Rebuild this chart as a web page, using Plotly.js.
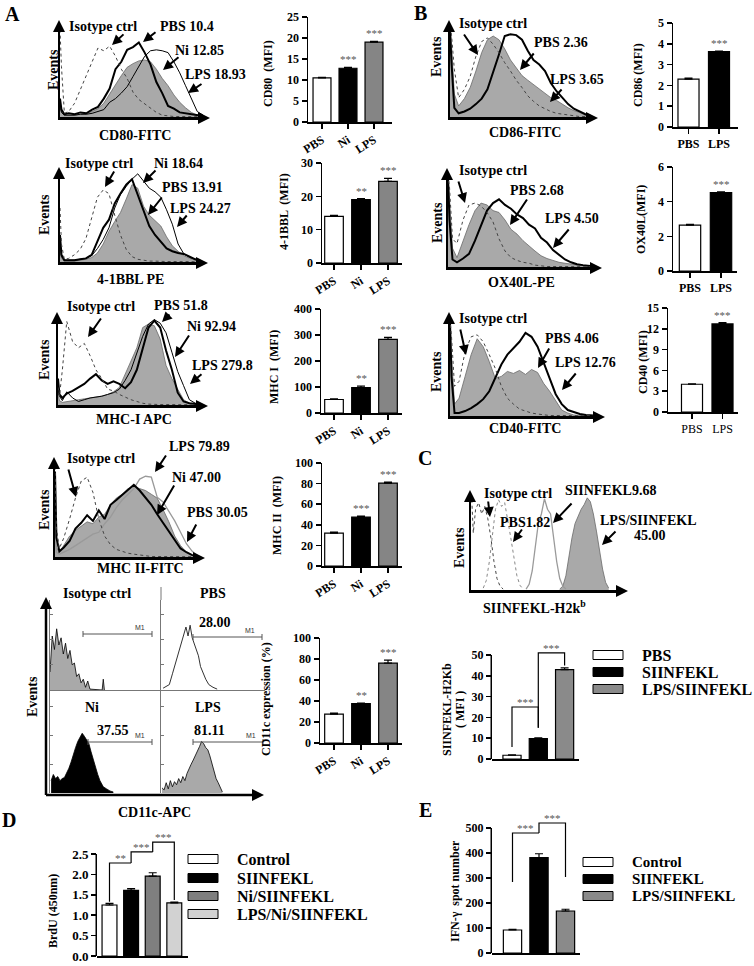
<!DOCTYPE html>
<html>
<head>
<meta charset="utf-8">
<script src="https://cdn.plot.ly/plotly-3.0.1.min.js"></script>
<style>
html,body{margin:0;padding:0;background:#fff;}
#fig{width:754px;height:966px;}
</style>
</head>
<body>
<div id="fig"></div>
<script>
// ================= DATA =================
// ---- Panel A bar charts ----
const groupsA = ['PBS', 'Ni', 'LPS'];
const cd80Mfi = [10.5, 12.8, 19.0];
const cd80Sem = [0.15, 0.2, 0.2];
const cd80Sig = ['', '***', '***'];
const bblMfi = [14.0, 19.0, 24.5];
const bblSem = [0.3, 0.3, 0.9];
const bblSig = ['', '**', '***'];
const mhc1Mfi = [52, 98, 283];
const mhc1Sem = [2, 5, 8];
const mhc1Sig = ['', '**', '***'];
const mhc2Mfi = [32, 47.5, 80.5];
const mhc2Sem = [1, 1, 1];
const mhc2Sig = ['', '***', '***'];
const cd11cPct = [27.5, 37.5, 76];
const cd11cSem = [1, 0.5, 3];
const cd11cSig = ['', '**', '***'];
// ---- Panel B bar charts ----
const groupsB = ['PBS', 'LPS'];
const cd86Mfi = [2.3, 3.62];
const cd86Sem = [0.05, 0.03];
const ox40Mfi = [2.65, 4.52];
const ox40Sem = [0.04, 0.05];
const cd40Mfi = [4.0, 12.7];
const cd40Sem = [0.05, 0.2];
const sigB = ['', '***'];
// ---- Panel C ----
const groupsC = ['PBS', 'SIINFEKL', 'LPS/SIINFEKL'];
const h2kbMfi = [1.8, 9.8, 43];
const h2kbSem = [0.2, 0.4, 0.8];
const h2kbSigX = [[0, 0, 1, 1], [1, 1, 2, 2]];
const h2kbSigY = [[5.8, 25, 25, 15], [15, 51, 51, 45]];
const h2kbSigText = ['***', '***'];
// ---- Panel D ----
const groupsD = ['Control', 'SIINFEKL', 'Ni/SIINFEKL', 'LPS/Ni/SIINFEKL'];
const brduOD = [1.25, 1.61, 1.96, 1.30];
const brduSem = [0.04, 0.04, 0.08, 0.02];
const brduSigX = [[0, 0, 1], [1, 1, 2], [2, 2, 3, 3]];
const brduSigY = [[1.33, 2.28, 2.28], [2.28, 2.55, 2.55], [2.55, 2.79, 2.79, 1.37]];
const brduSigText = ['**', '***', '***'];
// ---- Panel E ----
const groupsE = ['Control', 'SIINFEKL', 'LPS/SIINFEKL'];
const ifnSpots = [92, 382, 168];
const ifnSem = [3, 15, 7];
const ifnSigX = [[0, 0, 1], [1, 1, 2, 2]];
const ifnSigY = [[284, 480, 480], [480, 520, 520, 304]];
const ifnSigText = ['***', '***'];

// ---- flow histograms (fluorescence channel 0-100, % of max events) ----
const histGrid = [0, 1, 3, 6, 10, 14, 18, 22, 26, 30, 34, 38, 42, 46, 50, 54, 58, 62, 66, 70, 74, 78, 82, 86, 90, 94, 98];
const cd80Iso = [95, 55, 4, 6, 15, 30, 45, 62, 75, 72, 77, 66, 52, 42, 27, 19, 14, 10, 5, 2, 1, 0.5, 0.5, 0.5, 0.5, 0.3, 0.3];
const cd80Pbs = [20, 8, 3, 4, 3, 5, 4, 8, 11, 20, 31, 52, 60, 73, 76, 81, 70, 57, 38, 26, 12, 9, 5, 4, 3, 2, 1];
const cd80Ni = [10, 5, 2, 2, 2, 3, 4, 6, 9, 15, 25, 36, 45, 54, 58, 61, 62, 60, 52, 42, 34, 24, 16, 10, 5, 2, 1];
const cd80Lps = [15, 5, 2, 2, 2, 3, 3, 4, 6, 8, 16, 20, 26, 33, 44, 55, 66, 72, 73, 72, 70, 60, 48, 34, 20, 6, 2];

const bblIso = [60, 20, 3, 4, 8, 14, 26, 48, 72, 80, 76, 52, 30, 14, 6, 3, 2, 1, 1, 0.5, 0.5, 0.5, 0.5, 0.3, 0.3, 0.3, 0.3];
const bblPbs = [30, 8, 2, 2, 2, 3, 4, 8, 22, 38, 47, 65, 76, 86, 92, 75, 58, 40, 30, 22, 15, 12, 10, 9, 6, 3, 1];
const bblNi = [25, 6, 2, 2, 2, 3, 4, 7, 15, 25, 38, 60, 75, 84, 92, 98, 90, 82, 78, 72, 58, 42, 20, 9, 5, 3, 1];
const bblLps = [15, 4, 1, 1, 1, 2, 3, 5, 10, 20, 34, 45, 55, 70, 86, 82, 62, 52, 46, 40, 28, 18, 12, 7, 4, 2, 1];

const mhc1Iso = [20, 10, 40, 95, 72, 65, 70, 56, 40, 30, 18, 16, 12, 9, 6, 4, 2, 1, 0.5, 0.5, 0.5, 0.5, 0.3, 0.3, 0.3, 0.3, 0.3];
const mhc1Pbs = [30, 12, 8, 13, 16, 20, 24, 30, 35, 28, 24, 27, 24, 19, 26, 40, 65, 88, 96, 88, 62, 40, 14, 4, 2, 1, 0.5];
const mhc1Lps = [25, 10, 5, 15, 8, 4, 6, 8, 9, 10, 12, 14, 18, 28, 40, 60, 78, 92, 97, 93, 82, 60, 38, 22, 6, 2, 0.5];
const mhc1Ni = [15, 5, 3, 4, 5, 6, 7, 8, 9, 10, 12, 15, 20, 35, 48, 65, 88, 92, 90, 75, 45, 30, 18, 6, 2, 1, 0.5];

const mhc2Iso = [95, 30, 9, 20, 40, 62, 80, 84, 68, 40, 22, 13, 8, 6, 4, 3, 2, 1, 0.5, 0.5, 0.5, 0.5, 0.3, 0.3, 0.3, 0.3, 0.3];
const mhc2Ni = [90, 20, 6, 10, 17, 30, 36, 44, 38, 49, 40, 55, 60, 65, 71, 76, 70, 63, 55, 45, 36, 27, 18, 9, 5, 2, 0.5];
const mhc2Pbs = [30, 10, 5, 12, 22, 28, 33, 37, 35, 42, 45, 55, 62, 66, 72, 74, 72, 70, 66, 62, 50, 37, 22, 12, 5, 2, 0.5];
const mhc2Lps = [20, 5, 3, 5, 8, 12, 16, 20, 24, 26, 35, 42, 52, 60, 66, 72, 82, 85, 84, 63, 58, 48, 38, 26, 14, 6, 1];

const cd86Iso = [98, 90, 52, 21, 30, 44, 66, 82, 86, 79, 70, 59, 50, 40, 32, 23, 17, 12, 9, 6, 4, 3, 2, 1, 0.5, 0.5, 0.3];
const cd86Pbs = [98, 80, 25, 12, 20, 32, 50, 70, 84, 88, 84, 74, 62, 53, 45, 40, 35, 30, 25, 21, 18, 14, 10, 7, 5, 2, 1];
const cd86Lps = [95, 60, 10, 4, 6, 9, 14, 20, 30, 48, 68, 88, 90, 89, 84, 72, 62, 57, 50, 37, 28, 21, 14, 9, 6, 3, 1];

const ox40Iso = [98, 85, 30, 25, 50, 66, 68, 65, 58, 48, 30, 17, 10, 7, 5, 4, 2, 1, 0.5, 0.5, 0.5, 0.5, 0.3, 0.3, 0.3, 0.3, 0.3];
const ox40Pbs = [98, 70, 20, 10, 28, 45, 60, 68, 66, 60, 58, 50, 40, 35, 28, 22, 17, 12, 9, 7, 5, 4, 3, 2, 1, 0.5, 0.3];
const ox40Lps = [95, 50, 8, 5, 9, 14, 28, 44, 60, 68, 72, 66, 62, 56, 52, 45, 41, 31, 26, 18, 13, 8, 5, 3, 2, 1, 0.5];

const cd40Iso = [98, 80, 30, 35, 65, 80, 82, 75, 62, 48, 30, 18, 12, 7, 5, 3, 2, 1, 0.5, 0.5, 0.5, 0.5, 0.3, 0.3, 0.3, 0.3, 0.3];
const cd40Pbs = [98, 60, 12, 18, 40, 62, 78, 70, 55, 38, 40, 45, 43, 46, 42, 47, 44, 33, 25, 15, 6, 3, 1, 0.5, 0.5, 0.3, 0.3];
const cd40Lps = [95, 40, 3, 3, 5, 8, 12, 17, 25, 38, 52, 62, 68, 75, 84, 80, 70, 55, 38, 22, 12, 6, 4, 2, 1, 0.5, 0.3];

// SIINFEKL-H2kb histograms (own channel positions)
const kbIsoX = [0.5, 1.5, 3, 5, 7, 9, 11, 13, 15, 17, 19, 21];
const kbIsoY = [95, 60, 85, 92, 80, 88, 75, 55, 30, 12, 4, 1];
const kbPbsX = [8, 10, 12, 14, 16, 18, 20, 22, 24, 26, 28, 30, 32, 34];
const kbPbsY = [2, 10, 30, 60, 85, 95, 88, 92, 75, 55, 35, 15, 5, 1];
const kbSiiX = [36, 38, 40, 42, 44, 46, 48, 50, 52, 54, 56, 58, 60, 62];
const kbSiiY = [1, 6, 20, 45, 70, 80, 96, 85, 80, 55, 30, 12, 4, 1];
const kbLpsX = [58, 60, 62, 64, 66, 68, 70, 72, 74, 76, 78, 80, 82, 84, 86, 88, 90];
const kbLpsY = [1, 4, 15, 35, 55, 70, 78, 85, 90, 97, 93, 80, 62, 42, 22, 8, 2];

// CD11c-APC histograms (four small panels)
const c11IsoX = [0, 2, 4, 6, 8, 10, 12, 14, 16, 18, 20, 22, 24, 26, 28, 30, 32, 34, 36, 47, 48, 49];
const c11IsoY = [20, 60, 45, 68, 50, 58, 40, 52, 35, 44, 28, 30, 15, 18, 8, 12, 3, 10, 1, 0, 12, 0];
const c11PbsX = [2, 5, 8, 11, 14, 17, 20, 22, 24, 26, 28, 30, 32, 34, 36, 38, 40, 43, 46, 50, 54];
const c11PbsY = [2, 4, 6, 18, 30, 42, 55, 62, 70, 60, 72, 58, 52, 44, 38, 26, 20, 12, 6, 3, 1];
const c11NiX = [1, 3, 5, 7, 9, 11, 13, 15, 17, 19, 21, 23, 25, 27, 29, 31, 33, 35, 37, 39, 41, 43, 45, 48, 51, 54, 57];
const c11NiY = [12, 18, 14, 16, 12, 14, 15, 19, 24, 30, 38, 44, 50, 54, 58, 55, 52, 48, 40, 32, 24, 18, 12, 6, 4, 2, 1];
const c11LpsX = [1, 3, 5, 7, 9, 11, 13, 15, 17, 19, 21, 23, 25, 27, 29, 31, 33, 35, 37, 39, 41, 43, 45, 47, 49, 51, 53, 55, 57, 59];
const c11LpsY = [5, 3, 10, 4, 12, 6, 11, 8, 14, 10, 16, 12, 19, 24, 28, 32, 36, 40, 45, 50, 48, 44, 42, 36, 28, 20, 14, 10, 5, 1];

// ================= BUILD =================
const W = 754, H = 966;
const X = p => p / W, Y = p => 1 - p / H;
const SERIF = '"Liberation Serif", "Times New Roman", Times, serif';
const traces = [];
const layout = {width: W, height: H, margin: {l: 0, r: 0, t: 0, b: 0, pad: 0},
  paper_bgcolor: '#fff', plot_bgcolor: 'rgba(0,0,0,0)', showlegend: false,
  annotations: [], shapes: [], font: {family: SERIF, color: '#000', size: 12}};
const B = t => '<b>' + t + '</b>';
let nAx = 0;
function newAxes(xpx, ypx, xo, yo) {
  nAx++;
  const s = nAx === 1 ? '' : String(nAx);
  layout['xaxis' + s] = Object.assign({domain: [X(xpx[0]), X(xpx[1])], anchor: 'y' + s, showgrid: false, zeroline: false, fixedrange: true}, xo);
  layout['yaxis' + s] = Object.assign({domain: [Y(ypx[1]), Y(ypx[0])], anchor: 'x' + s, showgrid: false, zeroline: false, fixedrange: true}, yo);
  return {x: 'x' + s, y: 'y' + s};
}
function text(t, px, py, o) {
  o = o || {};
  const f = Object.assign({family: SERIF, size: 14, color: '#000'}, o.font || {});
  const a = Object.assign({xref: 'paper', yref: 'paper', x: X(px), y: Y(py), text: t, showarrow: false, xanchor: 'left', yanchor: 'middle'}, o);
  a.font = f;
  layout.annotations.push(a);
}
function arrow(tx, ty, hx, hy, w, s) {
  layout.annotations.push({xref: 'paper', yref: 'paper', x: X(hx), y: Y(hy), ax: tx - hx, ay: ty - hy,
    text: '', showarrow: true, arrowhead: 2, arrowsize: s || 1, arrowwidth: w || 2, arrowcolor: '#000', standoff: 0, startstandoff: 0});
}
function seg(x0, y0, x1, y1, c, w) {
  layout.shapes.push({type: 'line', xref: 'paper', yref: 'paper', x0: X(x0), y0: Y(y0), x1: X(x1), y1: Y(y1), line: {color: c || '#000', width: w || 1}});
}
function rectPx(x0, y0, x1, y1, fill) {
  layout.shapes.push({type: 'rect', xref: 'paper', yref: 'paper', x0: X(x0), y0: Y(y1), x1: X(x1), y1: Y(y0), fillcolor: fill, line: {color: '#000', width: 1}});
}

const STY = {
  iso: {line: {color: '#444', width: 1, dash: 'dot'}},
  isoLight: {line: {color: '#888', width: 1, dash: 'dot'}},
  fill: {fill: 'tozeroy', fillcolor: '#a9a9a9', line: {color: '#6a6a6a', width: 0.8}},
  thick: {line: {color: '#000', width: 2}},
  thin: {line: {color: '#000', width: 1}},
  grayLine: {line: {color: '#9a9a9a', width: 1.3}},
  fillBlackEdge: {fill: 'tozeroy', fillcolor: '#a9a9a9', line: {color: '#000', width: 0.8}},
  fillBlack: {fill: 'tozeroy', fillcolor: '#000', line: {color: '#000', width: 0.8}},
  outline: {line: {color: '#333', width: 1}}
};

function histPanel(b, series) {
  const ax = newAxes([b.x0, b.x1 - 4], [b.top + 5, b.base],
    {range: [0, 100], showline: true, linecolor: '#000', linewidth: 2.5, showticklabels: false, ticks: ''},
    {range: [0, 100], showline: true, linecolor: '#000', linewidth: 2.5, showticklabels: false, ticks: ''});
  series.forEach(s => {
    const st = JSON.parse(JSON.stringify(STY[s.style]));
    traces.push(Object.assign({type: 'scatter', mode: 'lines', x: s.x || histGrid, y: s.y, xaxis: ax.x, yaxis: ax.y, hoverinfo: 'skip'}, st));
  });
  arrow(b.x0 - 1, b.top + 14, b.x0 - 1, b.top, 2, 1.2);
  arrow(b.x1 - 14, b.base + 1, b.x1, b.base + 1, 2, 1.2);
  return ax;
}

function barPanel(b) {
  const xr = [(b.x0 - b.c0) / b.s, (b.x1 - b.c0) / b.s];
  const rMax = b.rangeMax || b.ymax;
  const topPx = b.zero - (b.zero - b.top) * rMax / b.ymax;
  const tv = [];
  for (let v = 0; v <= b.ymax + 1e-9; v += b.dtick) tv.push(+v.toFixed(3));
  const idx = b.cats.map((c, i) => i);
  const catBold = b.catWeight !== 'normal';
  const ax = newAxes([b.x0, b.x1], [topPx, b.zero], {
    range: xr, showline: true, linecolor: '#000', linewidth: 1.5,
    tickvals: idx, ticktext: b.cats.map(c => catBold ? B(c) : c), showticklabels: !!b.showCats,
    ticks: b.xticks ? 'outside' : '', ticklen: 5, tickwidth: 1.5, tickcolor: '#000',
    tickangle: b.tickangle || 0, tickfont: {family: SERIF, size: 12}
  }, {
    range: [0, rMax], showline: !b.rangeMax, linecolor: '#000', linewidth: 1.5,
    tickvals: tv, ticktext: tv.map(t => B(b.fmt ? t.toFixed(b.fmt) : String(t))),
    ticks: 'outside', ticklen: 5, tickwidth: 1.5, tickcolor: '#000',
    tickfont: {family: SERIF, size: b.tickSize || 12}
  });
  if (b.rangeMax) seg(b.x0 - 0.75, b.zero, b.x0 - 0.75, b.top, '#000', 1.5);
  traces.push({type: 'bar', x: idx, y: b.vals, width: 0.69, xaxis: ax.x, yaxis: ax.y, hoverinfo: 'skip',
    marker: {color: b.colors, line: {color: '#000', width: 1.2}},
    error_y: {type: 'data', symmetric: false, array: b.errs, arrayminus: b.errs.map(() => 0), color: '#000', thickness: 1.2, width: 4}});
  if (b.stars) b.stars.forEach((s, i) => {
    if (s) layout.annotations.push({xref: ax.x, yref: ax.y, x: i, y: b.vals[i] + b.errs[i], text: s, showarrow: false,
      yanchor: 'bottom', font: {family: SERIF, size: 11, color: '#555'}});
  });
  if (b.sigX) b.sigX.forEach((xs, k) => {
    traces.push({type: 'scatter', mode: 'lines', x: xs, y: b.sigY[k], xaxis: ax.x, yaxis: ax.y, hoverinfo: 'skip', cliponaxis: false,
      line: {color: '#000', width: 1.2}});
    layout.annotations.push({xref: ax.x, yref: ax.y, x: (xs[1] + xs[2]) / 2, y: b.sigY[k][1], text: b.sigText[k], showarrow: false,
      yanchor: 'bottom', yshift: -3, font: {family: SERIF, size: 11, color: '#555'}});
  });
  return ax;
}

const GRAY = '#858585';
// ---------- Panel A histograms ----------
histPanel({x0: 60, x1: 210, top: 20, base: 117}, [
  {y: cd80Ni, style: 'fill'}, {y: cd80Lps, style: 'thin'}, {y: cd80Pbs, style: 'thick'}, {y: cd80Iso, style: 'iso'}]);
histPanel({x0: 60, x1: 208, top: 167, base: 262}, [
  {y: bblLps, style: 'fill'}, {y: bblNi, style: 'thin'}, {y: bblPbs, style: 'thick'}, {y: bblIso, style: 'iso'}]);
histPanel({x0: 58, x1: 208, top: 312, base: 405}, [
  {y: mhc1Ni, style: 'fill'}, {y: mhc1Lps, style: 'thin'}, {y: mhc1Pbs, style: 'thick'}, {y: mhc1Iso, style: 'iso'}]);
histPanel({x0: 55, x1: 205, top: 457, base: 557}, [
  {y: mhc2Pbs, style: 'fill'}, {y: mhc2Lps, style: 'grayLine'}, {y: mhc2Ni, style: 'thick'}, {y: mhc2Iso, style: 'iso'}]);
// ---------- Panel B histograms ----------
histPanel({x0: 450, x1: 598, top: 20, base: 117}, [
  {y: cd86Pbs, style: 'fill'}, {y: cd86Lps, style: 'thick'}, {y: cd86Iso, style: 'iso'}]);
histPanel({x0: 448, x1: 602, top: 168, base: 267}, [
  {y: ox40Pbs, style: 'fill'}, {y: ox40Lps, style: 'thick'}, {y: ox40Iso, style: 'iso'}]);
histPanel({x0: 450, x1: 605, top: 312, base: 416}, [
  {y: cd40Pbs, style: 'fill'}, {y: cd40Lps, style: 'thick'}, {y: cd40Iso, style: 'iso'}]);
// ---------- Panel C histogram ----------
histPanel({x0: 471, x1: 628, top: 490, base: 590}, [
  {x: kbLpsX, y: kbLpsY, style: 'fill'}, {x: kbSiiX, y: kbSiiY, style: 'grayLine'},
  {x: kbPbsX, y: kbPbsY, style: 'isoLight'}, {x: kbIsoX, y: kbIsoY, style: 'iso'}]);

// ---------- CD11c panels ----------
const c11Panels = [
  {xp: [50, 161], yp: [600, 690], x: c11IsoX, y: c11IsoY, st: 'fillBlackEdge', bottom: true},
  {xp: [161, 265], yp: [600, 690], x: c11PbsX, y: c11PbsY, st: 'outline', bottom: true},
  {xp: [50, 161], yp: [690, 793], x: c11NiX, y: c11NiY, st: 'fillBlack', bottom: false},
  {xp: [161, 265], yp: [690, 793], x: c11LpsX, y: c11LpsY, st: 'fillBlackEdge', bottom: false}
];
c11Panels.forEach(p => {
  const ax = newAxes(p.xp, p.yp,
    {range: [0, 100], showline: p.bottom, linecolor: '#777', linewidth: 1, showticklabels: false, ticks: ''},
    {range: [0, 100], showline: true, linecolor: '#777', linewidth: 1, showticklabels: false, ticks: 'inside', ticklen: 3, tickcolor: '#777', tickvals: [28, 56, 84]});
  traces.push(Object.assign({type: 'scatter', mode: 'lines', x: p.x, y: p.y, xaxis: ax.x, yaxis: ax.y, hoverinfo: 'skip'}, JSON.parse(JSON.stringify(STY[p.st]))));
});
seg(161, 587, 161, 600, '#777', 1);
seg(46, 795, 252, 795, '#000', 2.5);
seg(46, 795, 46, 608, '#000', 2.5);
arrow(46, 612, 46, 597, 2, 1.2);
arrow(250, 795, 264, 795, 2, 1.2);
// M1 gates
[[83, 152, 634], [193, 262, 637], [88, 152, 742], [193, 263, 742]].forEach(g => {
  seg(g[0], g[2], g[1], g[2], '#555', 1);
  seg(g[0], g[2] - 3, g[0], g[2] + 3, '#555', 1);
  seg(g[1], g[2] - 3, g[1], g[2] + 3, '#555', 1);
  text('M1', g[1] - 12, g[2] - 7, {xanchor: 'center', font: {size: 7, family: 'Liberation Sans, Arial, sans-serif', color: '#333'}});
});

// ---------- Bar charts ----------
const A_COL = ['#fff', '#000', GRAY];
barPanel({x0: 308, x1: 392, zero: 122, top: 17, ymax: 25, dtick: 5, c0: 322, s: 26, cats: groupsA, vals: cd80Mfi, errs: cd80Sem, colors: A_COL, stars: cd80Sig, showCats: true, xticks: true, tickangle: -32});
barPanel({x0: 322, x1: 402, zero: 263, top: 163, ymax: 30, dtick: 10, c0: 334, s: 27, cats: groupsA, vals: bblMfi, errs: bblSem, colors: A_COL, stars: bblSig, showCats: true, xticks: true, tickangle: -32});
barPanel({x0: 321, x1: 402, zero: 413, top: 309, ymax: 400, dtick: 100, c0: 334, s: 27, cats: groupsA, vals: mhc1Mfi, errs: mhc1Sem, colors: A_COL, stars: mhc1Sig, showCats: true, xticks: true, tickangle: -32});
barPanel({x0: 322, x1: 402, zero: 566, top: 463, ymax: 100, dtick: 20, c0: 334, s: 27, cats: groupsA, vals: mhc2Mfi, errs: mhc2Sem, colors: A_COL, stars: mhc2Sig, showCats: true, xticks: true, tickangle: -32});
barPanel({x0: 320, x1: 402, zero: 743, top: 638, ymax: 100, dtick: 20, c0: 334, s: 27, cats: groupsA, vals: cd11cPct, errs: cd11cSem, colors: A_COL, stars: cd11cSig, showCats: true, xticks: true, tickangle: -32});
const B_COL = ['#fff', '#000'];
barPanel({x0: 673, x1: 738, zero: 127, top: 23, ymax: 5, dtick: 1, c0: 688.5, s: 30.5, cats: groupsB, vals: cd86Mfi, errs: cd86Sem, colors: B_COL, stars: sigB, showCats: true, xticks: true});
barPanel({x0: 673, x1: 737, zero: 271, top: 167, ymax: 6, dtick: 2, c0: 690, s: 31, cats: groupsB, vals: ox40Mfi, errs: ox40Sem, colors: B_COL, stars: sigB, showCats: true, xticks: true});
barPanel({x0: 668, x1: 738, zero: 412, top: 308, ymax: 15, dtick: 3, c0: 692, s: 30.5, cats: groupsB, vals: cd40Mfi, errs: cd40Sem, colors: B_COL, stars: sigB, showCats: true, xticks: true, catWeight: 'normal'});
barPanel({x0: 492, x1: 579, zero: 759, top: 655, ymax: 50, rangeMax: 52, dtick: 10, c0: 512, s: 26.3, cats: groupsC, vals: h2kbMfi, errs: h2kbSem, colors: ['#fff', '#000', '#8a8a8a'], sigX: h2kbSigX, sigY: h2kbSigY, sigText: h2kbSigText});
barPanel({x0: 97, x1: 188, zero: 956, top: 854, ymax: 2.5, rangeMax: 2.85, dtick: 0.5, fmt: 1, tickSize: 13, c0: 109.5, s: 21.6, cats: groupsD, vals: brduOD, errs: brduSem, colors: ['#fff', '#000', '#7f7f7f', '#d2d2d2'], sigX: brduSigX, sigY: brduSigY, sigText: brduSigText});
barPanel({x0: 492, x1: 580, zero: 953, top: 828, ymax: 500, rangeMax: 525, dtick: 100, c0: 512.5, s: 26.5, cats: groupsE, vals: ifnSpots, errs: ifnSem, colors: ['#fff', '#000', '#8a8a8a'], sigX: ifnSigX, sigY: ifnSigY, sigText: ifnSigText});

// ---------- Texts ----------
// panel letters
text(B('A'), 12, 14, {xanchor: 'center', font: {size: 20}});
text(B('B'), 420, 13, {xanchor: 'center', font: {size: 20}});
text(B('C'), 425, 458, {xanchor: 'center', font: {size: 20}});
text(B('D'), 9, 820, {xanchor: 'center', font: {size: 20}});
text(B('E'), 425, 810, {xanchor: 'center', font: {size: 20}});
// Events labels
[[54, 70], [44, 215], [44, 360], [44, 510], [32, 697], [437, 57], [437, 223], [436, 372], [459, 548]].forEach(p =>
  text(B('Events'), p[0], p[1], {xanchor: 'center', textangle: -90, font: {size: 14}}));
// histogram x titles
text(B('CD80-FITC'), 135, 135, {xanchor: 'center'});
text(B('4-1BBL PE'), 130, 280, {xanchor: 'center'});
text(B('MHC-I APC'), 134, 420, {xanchor: 'center'});
text(B('MHC II-FITC'), 140, 568, {xanchor: 'center'});
text(B('CD11c-APC'), 154, 812, {xanchor: 'center'});
text(B('CD86-FITC'), 525, 133, {xanchor: 'center'});
text(B('OX40L-PE'), 521, 282, {xanchor: 'center'});
text(B('CD40-FITC'), 525, 428, {xanchor: 'center'});
text(B('SIINFEKL-H2k<sup>b</sup>'), 534, 607, {xanchor: 'center'});
// CD80
text(B('Isotype ctrl'), 67, 27); text(B('PBS 10.4'), 158, 27); text(B('Ni 12.85'), 173, 50); text(B('LPS 18.93'), 183, 75);
arrow(125, 33, 112, 45); arrow(157, 31, 143, 42); arrow(180, 56, 163, 70); arrow(203, 83, 188, 93);
// 4-1BBL
text(B('Isotype ctrl'), 63, 163); text(B('Ni 18.64'), 152, 163); text(B('PBS 13.91'), 160, 188); text(B('LPS 24.27'), 168, 208);
arrow(115, 170, 105, 187); arrow(157, 169, 143, 183); arrow(163, 196, 148, 215); arrow(188, 214, 177, 227);
// MHC-I
text(B('Isotype ctrl'), 65, 307); text(B('PBS 51.8'), 152, 305); text(B('Ni 92.94'), 185, 327); text(B('LPS 279.8'), 190, 365);
arrow(102, 317, 88, 337); arrow(171, 313, 162, 322); arrow(190, 334, 175, 357); arrow(203, 373, 190, 384);
// MHC II
text(B('Isotype ctrl'), 65, 458); text(B('LPS 79.89'), 167, 446); text(B('Ni 47.00'), 170, 477); text(B('PBS 30.05'), 185, 512);
arrow(68, 468, 76, 497); arrow(167, 454, 155, 472); arrow(175, 484, 157, 515); arrow(197, 523, 187, 542);
// CD11c
text(B('Isotype ctrl'), 97, 593, {xanchor: 'center'}); text(B('PBS'), 213, 593, {xanchor: 'center'});
text(B('28.00'), 215, 622, {xanchor: 'center'});
text(B('Ni'), 92, 707, {xanchor: 'center'}); text(B('LPS'), 208, 707, {xanchor: 'center'});
text(B('37.55'), 113, 730, {xanchor: 'center'}); text(B('81.11'), 209, 730, {xanchor: 'center'});
// CD86
text(B('Isotype ctrl'), 457, 23); text(B('PBS 2.36'), 532, 43); text(B('LPS 3.65'), 548, 80);
arrow(463, 33, 478, 55); arrow(535, 52, 520, 70); arrow(563, 88, 550, 102);
// OX40L
text(B('Isotype ctrl'), 457, 170); text(B('PBS 2.68'), 508, 190); text(B('LPS 4.50'), 543, 218);
arrow(458, 180, 465, 203); arrow(528, 198, 510, 225); arrow(570, 228, 553, 248);
// CD40
text(B('Isotype ctrl'), 457, 318); text(B('PBS 4.06'), 543, 338); text(B('LPS 12.76'), 553, 362);
arrow(460, 328, 466, 355); arrow(550, 347, 538, 368); arrow(577, 372, 562, 390);
// C histogram
text(B('Isotype ctrl'), 482, 493); text(B('SIINFEKL9.68'), 563, 490); text(B('PBS1.82'), 498, 522);
text(B('LPS/SIINFEKL'), 598, 520); text(B('45.00'), 632, 535);
arrow(488, 500, 490, 517); arrow(573, 502, 553, 523); arrow(523, 528, 513, 542); arrow(617, 530, 602, 545);

// bar y titles
const yT = (t, px, py) => text(B(t), px, py, {xanchor: 'center', textangle: -90, font: {size: 12}});
yT('CD80  (MFI)', 268, 74);
yT('4-1BBL  (MFI)', 284, 212);
yT('MHC I  (MFI)', 274, 367);
yT('MHC II  (MFI)', 277, 516);
yT('CD11c expression (%)', 266, 699);
yT('CD86 (MFI)', 638, 75);
yT('OX40L(MFI)', 641, 220);
yT('CD40 (MFI)', 643, 362);
yT('SIINFEKL-H2Kb', 447, 710);
yT('( MFI )', 460, 710);
yT('BrdU (450nm)', 53, 911);
yT('IFN-γ  spot number', 455, 891);

// legends
const leg = (bx, size, items) => items.forEach(it => {
  rectPx(bx, it[1] - 4.5, bx + 30, it[1] + 4.5, it[2]);
  text(B(it[0]), bx + 47, it[1], {font: {size: size}});
});
leg(593, 16, [[groupsC[0], 655, '#fff'], [groupsC[1], 672, '#000'], [groupsC[2], 689, '#8a8a8a']]);
leg(188, 16, [[groupsD[0], 859, '#fff'], [groupsD[1], 878, '#000'], [groupsD[2], 896, '#7f7f7f'], [groupsD[3], 914, '#d2d2d2']]);
leg(583, 15, [[groupsE[0], 862, '#fff'], [groupsE[1], 879, '#000'], [groupsE[2], 896, '#8a8a8a']]);

Plotly.newPlot('fig', traces, layout, {staticPlot: true, displayModeBar: false});
</script>
</body>
</html>
